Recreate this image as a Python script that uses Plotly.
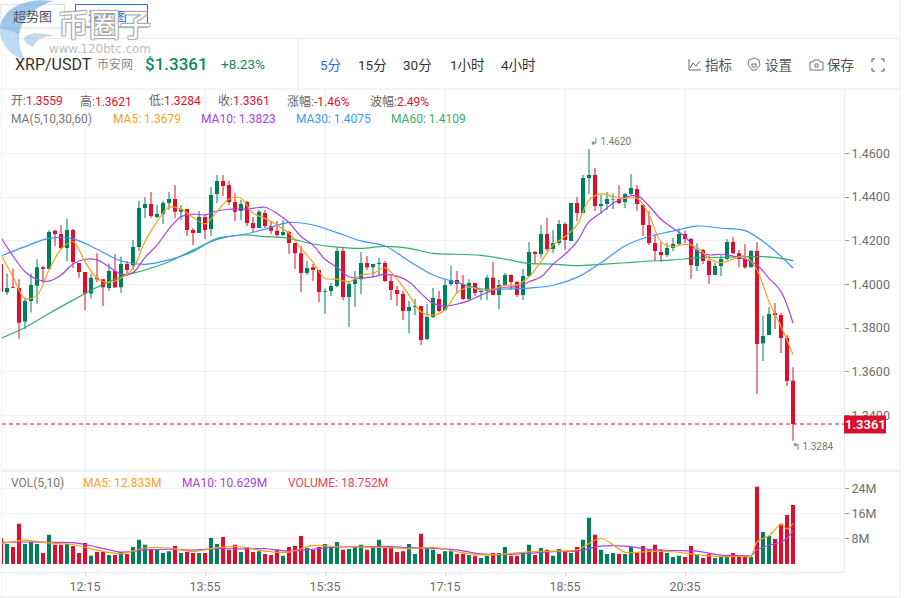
import plotly.graph_objects as go

W, H = 904, 598

# ---------- data ----------
opens = [1.4093,1.3964,1.3987,1.3983,1.3830,1.3924,1.3994,1.4079,1.4070,1.4245,
1.4231,1.4167,1.4249,1.4098,1.4057,1.3958,1.4030,1.4024,1.3983,1.4061,
1.3987,1.4093,1.4088,1.4171,1.4350,1.4368,1.4309,1.4322,1.4373,1.4391,
1.4332,1.4345,1.4249,1.4235,1.4309,1.4254,1.4414,1.4473,1.4455,1.4377,
1.4336,1.4377,1.4281,1.4258,1.4327,1.4267,1.4245,1.4226,1.4240,1.4190,
1.4143,1.4052,1.4079,1.4066,1.3966,1.3970,1.3993,1.4153,1.3942,1.4002,
1.4024,1.4098,1.4079,1.4093,1.4098,1.4016,1.3974,1.3956,1.3878,1.3896,
1.3901,1.3750,1.3851,1.3933,1.3883,1.4002,1.4020,1.4002,1.3933,1.4006,
1.3965,1.3970,1.4030,1.3951,1.3997,1.4043,1.4011,1.3951,1.4038,1.4148,
1.4139,1.4231,1.4162,1.4190,1.4277,1.4199,1.4373,1.4327,1.4487,1.4501,
1.4359,1.4368,1.4388,1.4391,1.4377,1.4414,1.4437,1.4363,1.4272,1.4190,
1.4148,1.4135,1.4167,1.4185,1.4231,1.4208,1.4084,1.4158,1.4107,1.4043,
1.4084,1.4116,1.4194,1.4143,1.4116,1.4079,1.4153,1.3731,1.3768,1.3869,
1.3860,1.3755,1.3559]
closes = [1.3966,1.3983,1.3984,1.3825,1.3924,1.3997,1.4079,1.4070,1.4240,1.4231,
1.4167,1.4249,1.4102,1.4057,1.3958,1.4030,1.4024,1.3987,1.4061,1.3987,
1.4093,1.4066,1.4171,1.4350,1.4368,1.4313,1.4322,1.4373,1.4391,1.4332,
1.4345,1.4249,1.4235,1.4309,1.4249,1.4409,1.4473,1.4450,1.4377,1.4332,
1.4368,1.4281,1.4258,1.4332,1.4267,1.4245,1.4226,1.4240,1.4190,1.4143,
1.4052,1.4075,1.4066,1.3965,1.3970,1.3993,1.4153,1.3942,1.4002,1.4024,
1.4098,1.4079,1.4093,1.4098,1.4016,1.3974,1.3956,1.3878,1.3896,1.3901,
1.3745,1.3851,1.3938,1.3878,1.3997,1.4020,1.4002,1.3933,1.4006,1.3961,
1.3970,1.4030,1.3951,1.3997,1.4043,1.4011,1.3951,1.4038,1.4148,1.4139,
1.4231,1.4162,1.4190,1.4277,1.4203,1.4373,1.4327,1.4487,1.4501,1.4359,
1.4368,1.4391,1.4391,1.4373,1.4414,1.4441,1.4368,1.4272,1.4190,1.4153,
1.4135,1.4167,1.4185,1.4231,1.4208,1.4089,1.4158,1.4107,1.4043,1.4084,
1.4116,1.4194,1.4143,1.4116,1.4079,1.4153,1.3727,1.3764,1.3865,1.3860,
1.3755,1.3558,1.3361]
highs = [1.4100,1.4050,1.4073,1.4024,1.3936,1.4050,1.4115,1.4085,1.4249,1.4249,
1.4272,1.4300,1.4254,1.4098,1.4057,1.4050,1.4143,1.4024,1.4096,1.4139,
1.4128,1.4107,1.4203,1.4382,1.4400,1.4423,1.4363,1.4382,1.4423,1.4455,
1.4363,1.4345,1.4258,1.4336,1.4318,1.4446,1.4501,1.4501,1.4473,1.4418,
1.4386,1.4382,1.4309,1.4341,1.4341,1.4290,1.4290,1.4295,1.4245,1.4190,
1.4176,1.4107,1.4093,1.4066,1.3982,1.4006,1.4171,1.4168,1.4016,1.4061,
1.4148,1.4130,1.4093,1.4121,1.4107,1.4043,1.3993,1.3970,1.3924,1.3933,
1.3901,1.3910,1.3983,1.3970,1.4024,1.4084,1.4061,1.4043,1.4024,1.4006,
1.3974,1.4043,1.4102,1.4020,1.4052,1.4047,1.4016,1.4070,1.4194,1.4153,
1.4272,1.4304,1.4249,1.4295,1.4286,1.4373,1.4400,1.4501,1.4620,1.4533,
1.4409,1.4423,1.4417,1.4455,1.4418,1.4505,1.4455,1.4368,1.4336,1.4231,
1.4194,1.4190,1.4212,1.4257,1.4245,1.4212,1.4188,1.4162,1.4130,1.4098,
1.4135,1.4208,1.4217,1.4157,1.4185,1.4157,1.4194,1.3855,1.3897,1.3915,
1.3869,1.3768,1.3621]
lows = [1.3960,1.3951,1.3984,1.3750,1.3796,1.3871,1.3912,1.4007,1.4070,1.4176,
1.4161,1.4107,1.4075,1.4030,1.3883,1.3935,1.4011,1.3901,1.3970,1.3983,
1.3961,1.4038,1.4066,1.4153,1.4304,1.4304,1.4303,1.4277,1.4341,1.4304,
1.4295,1.4222,1.4180,1.4235,1.4208,1.4222,1.4373,1.4405,1.4363,1.4290,
1.4295,1.4267,1.4240,1.4258,1.4258,1.4231,1.4217,1.4222,1.4139,1.4070,
1.3964,1.4043,1.4015,1.3919,1.3864,1.3947,1.3988,1.3929,1.3805,1.3896,
1.3956,1.4066,1.4030,1.4038,1.4011,1.3929,1.3901,1.3837,1.3777,1.3860,
1.3722,1.3745,1.3846,1.3874,1.3878,1.3993,1.3959,1.3929,1.3929,1.3947,
1.3929,1.3929,1.3951,1.3887,1.3993,1.3974,1.3942,1.3929,1.4034,1.4093,
1.4121,1.4153,1.4142,1.4179,1.4157,1.4199,1.4290,1.4327,1.4414,1.4336,
1.4322,1.4341,1.4345,1.4368,1.4350,1.4409,1.4336,1.4222,1.4180,1.4107,
1.4102,1.4125,1.4153,1.4180,1.4188,1.4025,1.4061,1.4093,1.4002,1.4043,
1.4038,1.4112,1.4139,1.4079,1.4070,1.4079,1.3498,1.3650,1.3768,1.3796,
1.3686,1.3535,1.3284]
volumes = [8.2,6.4,5.4,12.8,6.4,7.0,6.4,3.5,9.3,6.1,
6.1,6.4,5.7,3.5,6.7,2.6,3.8,3.8,2.9,2.9,
3.8,3.2,5.4,7.7,6.1,4.8,4.8,3.5,4.1,5.7,
3.5,3.8,3.5,3.5,3.5,8.3,6.4,8.6,4.5,6.1,
3.8,5.4,3.8,4.1,3.2,2.9,4.5,2.6,5.4,5.7,
8.9,5.1,4.5,5.4,6.4,5.4,7.0,4.5,4.8,5.4,
6.1,4.5,5.7,7.7,5.1,5.4,3.8,4.1,6.4,3.2,
9.6,5.4,4.5,3.2,4.1,4.1,3.2,3.3,2.9,2.6,
1.9,2.6,3.5,3.5,5.4,2.6,2.6,3.8,6.1,2.9,
5.1,4.5,2.6,4.8,3.8,3.5,5.4,7.7,14.7,9.3,
4.5,3.2,3.5,3.2,3.2,5.4,3.5,5.7,4.5,6.1,
4.5,3.5,2.2,2.6,2.2,5.7,3.2,1.9,3.2,1.9,
2.2,2.6,3.5,2.6,2.6,2.2,24.6,10.2,8.9,8.0,
12.8,15.6,18.752]

ma5 = [1.4135,1.4035,1.3936,1.3951,1.4066,1.4161,1.4196,1.4104,1.4028,1.4008,
1.4028,1.4073,1.4196,1.4287,1.4353,1.4344,1.4307,1.4277,1.4333,1.4391,
1.4394,1.4325,1.4302,1.4272,1.4234,1.4165,1.4101,1.4028,1.4024,1.4012,
1.4043,1.4050,1.4076,1.4024,1.3951,1.3875,1.3860,1.3883,1.3962,1.3987,
1.3974,1.3977,1.3996,1.3997,1.4035,1.4104,1.4180,1.4219,1.4272,1.4386,
1.4414,1.4402,1.4394,1.4394,1.4318,1.4196,1.4173,1.4183,1.4170,1.4119,
1.4099,1.4116,1.4130,1.4066,1.3921,1.3807,1.3679]
ma10 = [1.4215,1.4130,1.4058,1.4023,1.4015,1.4043,1.4093,1.4115,1.4112,1.4081,
1.4047,1.4054,1.4124,1.4180,1.4254,1.4310,1.4322,1.4318,1.4336,1.4344,
1.4344,1.4348,1.4353,1.4325,1.4283,1.4219,1.4180,1.4115,1.4078,1.4035,
1.4028,1.4035,1.4046,1.4038,1.4012,1.3959,1.3913,1.3901,1.3910,1.3926,
1.3951,1.3974,1.3987,1.3990,1.4012,1.4035,1.4092,1.4138,1.4196,1.4287,
1.4328,1.4371,1.4399,1.4406,1.4359,1.4298,1.4257,1.4219,1.4154,1.4135,
1.4138,1.4130,1.4115,1.4089,1.4028,1.3967,1.3823]
ma30 = [1.4130,1.4173,1.4211,1.4208,1.4161,1.4107,1.4092,1.4112,1.4150,1.4211,
1.4226,1.4253,1.4284,1.4272,1.4237,1.4199,1.4176,1.4107,1.4043,1.4009,
1.3980,1.3979,1.3983,1.3996,1.4032,1.4099,1.4176,1.4219,1.4244,1.4267,
1.4257,1.4246,1.4176,1.4075]
ma60 = [1.3753,1.3803,1.3867,1.3928,1.3987,1.4035,1.4066,1.4104,1.4157,1.4206,
1.4226,1.4219,1.4211,1.4185,1.4171,1.4165,1.4174,1.4165,1.4142,1.4138,
1.4133,1.4116,1.4096,1.4093,1.4086,1.4092,1.4099,1.4107,1.4112,1.4121,
1.4124,1.4127,1.4126,1.4109]
vol_ma_idx = [0,4,8,12,16,20,24,28,32,36,40,44,48,52,56,60,64,68,72,76,80,84,88,92,96,
100,104,108,112,116,120,124,125,126,128,130,131,132]
vol_ma5 = [6.4,7.6,6.7,6.2,4.4,3.3,5.1,5.1,4.0,5.2,5.5,4.1,3.8,5.9,5.5,5.4,5.3,4.9,5.3,3.9,
2.9,3.2,3.9,4.1,4.5,8.2,3.7,4.0,3.9,3.0,2.4,2.4,2.3,7.0,9.0,12.6,11.1,12.833]
vol_ma10 = [6.9,7.0,6.9,6.8,5.4,3.8,4.5,4.7,4.4,4.9,4.8,4.9,4.1,4.7,5.4,5.5,5.6,5.2,5.0,4.5,
3.2,3.0,3.4,3.9,4.1,5.7,5.7,4.7,4.3,4.1,2.8,2.7,2.6,4.5,6.0,7.0,8.2,10.629]
tick_idx = [14, 34, 54, 74, 94, 114]
tick_labels = ["12:15", "13:55", "15:35", "17:15", "18:55", "20:35"]
price_ticks = [1.34, 1.36, 1.38, 1.40, 1.42, 1.44, 1.46]
vol_ticks = [8, 16, 24]
vol_tick_labels = ["8M", "16M", "24M"]
last_price = 1.3361
high_mark, high_idx = 1.4620, 98
low_mark, low_idx = 1.3284, 132

# ---------- styles ----------
RED, GREEN = "#DA0F2E", "#00805A"
RED_W, GREEN_W = "rgba(218,15,46,0.5)", "rgba(0,128,90,0.5)"
ORANGE, PURPLE, BLUE, LGREEN = "#F9A11B", "#A742E6", "#3A96FF", "#2FAE6E"
GRID, TXT, LINE = "#EFF1F6", "#777777", "#E9EBF0"
CJK = "Roboto, 'Noto Sans CJK SC', sans-serif"
n = range(len(closes))
ups = [c >= o for o, c in zip(opens, closes)]
px = lambda x: x / W
py = lambda y: 1 - y / H

fig = go.Figure()
# wicks then bodies
fig.add_trace(go.Bar(x=list(n), y=[h - l for h, l in zip(highs, lows)], base=lows, width=1/3,
                     marker=dict(color=[GREEN_W if u else RED_W for u in ups], line_width=0),
                     xaxis="x", yaxis="y", hoverinfo="skip"))
fig.add_trace(go.Candlestick(x=list(n), open=opens, high=highs, low=lows, close=closes, whiskerwidth=0,
                             increasing=dict(fillcolor=GREEN, line=dict(color=GREEN, width=0)),
                             decreasing=dict(fillcolor=RED, line=dict(color=RED, width=0)),
                             xaxis="x", yaxis="y"))
for vals, step, col in [(ma60, 4, LGREEN), (ma30, 4, BLUE), (ma10, 2, PURPLE), (ma5, 2, ORANGE)]:
    fig.add_trace(go.Scatter(x=list(range(0, 133, step)), y=vals, mode="lines",
                             line=dict(color=col, width=1.2, shape="spline", smoothing=1),
                             xaxis="x", yaxis="y"))
fig.add_trace(go.Bar(x=list(n), y=volumes, width=0.68,
                     marker=dict(color=[GREEN if u else RED for u in ups], line_width=0),
                     xaxis="x2", yaxis="y2"))
for vals, col in [(vol_ma10, PURPLE), (vol_ma5, ORANGE)]:
    fig.add_trace(go.Scatter(x=vol_ma_idx, y=vals, mode="lines",
                             line=dict(color=col, width=1.2, shape="spline", smoothing=0.8),
                             xaxis="x2", yaxis="y2"))

x_range = [(2 - 1) / 6, (844 - 1) / 6]
axis_font = dict(family=CJK, size=12.5, color="#6E6E6E")
layout = dict(
    width=W, height=H, margin=dict(l=0, r=0, t=0, b=0), showlegend=False,
    paper_bgcolor="white", plot_bgcolor="white", boxgap=0.32, boxgroupgap=0, barmode="overlay",
    font=dict(family=CJK),
    xaxis=dict(domain=[px(2), px(844)], range=x_range, anchor="y", tickvals=tick_idx, showticklabels=False,
               showgrid=True, gridcolor=GRID, gridwidth=1, zeroline=False, rangeslider=dict(visible=False), ticks=""),
    xaxis2=dict(domain=[px(2), px(844)], range=x_range, anchor="y2", tickvals=tick_idx, ticktext=tick_labels,
                showgrid=True, gridcolor=GRID, zeroline=False, ticks="outside", ticklen=3, tickcolor="#CCCCCC",
                tickfont=axis_font, showline=True, linecolor=LINE),
    yaxis=dict(domain=[py(470), py(89)], range=[1.46 - (470 - 153.3) / 2185, 1.46 + (153.3 - 89) / 2185],
               side="right", anchor="x", tickvals=price_ticks, tickformat=".4f", gridcolor=GRID, zeroline=False,
               ticks="outside", ticklen=4, tickcolor="#999999", tickfont=axis_font, showline=True, linecolor=LINE),
    yaxis2=dict(domain=[py(572.3), py(472)], range=[-8.3 / 3.14, 92 / 3.14], side="right", anchor="x2",
                tickvals=vol_ticks, ticktext=vol_tick_labels, gridcolor=GRID, zeroline=False,
                ticks="outside", ticklen=4, tickcolor="#999999", tickfont=axis_font, showline=True, linecolor=LINE),
)
fig.update_layout(**layout)


def line(x0, y0, x1, y1, color=LINE, width=1):
    fig.add_shape(type="line", xref="paper", yref="paper", x0=px(x0), y0=py(y0), x1=px(x1), y1=py(y1),
                  line=dict(color=color, width=width))


def path(d, color="#666666", fill="rgba(0,0,0,0)", width=1):
    out = []
    toks = d.split()
    i = 0
    while i < len(toks):
        t = toks[i]
        if t.isalpha():
            out.append(t)
            i += 1
        else:
            out.append(f"{px(float(t)):.5f},{py(float(toks[i + 1])):.5f}")
            i += 2
    fig.add_shape(type="path", xref="paper", yref="paper", path=" ".join(out),
                  line=dict(color=color, width=width), fillcolor=fill)


def text(x, y, s, size=12, color=TXT, anchor="left", family=CJK, **kw):
    fig.add_annotation(xref="paper", yref="paper", x=px(x), y=py(y), text=s, showarrow=False, xanchor=anchor,
                       yanchor="middle", font=dict(size=size, color=color, family=family, **kw), borderpad=0)


# page frame / header rules
line(0, 38.5, 901, 38.5)
line(2, 89, 901, 89)
line(298, 38.5, 298, 89)
line(1.5, 38.5, 1.5, 597, color="#F0F2F6")
line(900, 0, 900, 598)
line(0, 597, 901, 597)
fig.add_shape(type="rect", xref="paper", yref="paper", x0=px(2), x1=px(901), y0=py(472), y1=py(469.5),
              fillcolor="#EEF1F6", line_width=0)

# tabs
fig.add_shape(type="rect", xref="paper", yref="paper", x0=px(1), x1=px(64.5), y0=py(28), y1=py(4.5),
              line=dict(color="#DCDCDC", width=1), fillcolor="white")
fig.add_shape(type="rect", xref="paper", yref="paper", x0=px(75.5), x1=px(147.5), y0=py(27), y1=py(4.5),
              line=dict(color="#2A6BE8", width=1), fillcolor="white")

# watermark logo
path("M 54 1 C 26 -3 2 8 0 28 C -1 42 10 56 26 61 C 20 52 17 42 20 30 C 24 16 36 6 54 1 Z",
     color="rgba(0,0,0,0)", fill="rgba(98,165,222,0.62)", width=0)
path("M 0 28 C -1 42 10 56 26 61 C 20 52 17 42 19 34 Z",
     color="rgba(0,0,0,0)", fill="rgba(255,255,255,0.35)", width=0)
path("M 24 38 C 29 32 40 32 54 36 C 44 36 36 39 33 47 C 28 45 24 42 24 38 Z",
     color="rgba(0,0,0,0)", fill="rgba(160,195,228,0.65)", width=0)
text(12, 17, "超势图", 13, "#555555")
text(87, 17, "深度图", 13, "#2A6BE8")
text(57, 26, "币圈子", 31, "white", shadow="1px 1px 1px #AAA, -1px -1px 1px #AAA, 1px -1px 1px #AAA, -1px 1px 1px #AAA")
text(48, 48.5, "www.120btc.com", 11.8, "#BDBDBD", family="'DejaVu Sans', sans-serif")

# title row
text(14, 64, "XRP/USDT", 16, "#333333")
text(96, 64, "币安网", 12, "#8A8A8A")
text(143.5, 64, "$1.3361", 17, "#0B8A60", weight=500)
text(220, 64, "+8.23%", 13.5, "#0B8A60")
for x, s, c in [(319, "5分", "#2A6BE8"), (357, "15分", "#333333"), (402, "30分", "#333333"),
                (449, "1小时", "#333333"), (500, "4小时", "#333333")]:
    text(x, 65, s, 13.5, c)
for x, s in [(703.5, "指标"), (764, "设置"), (826, "保存")]:
    text(x, 65, s, 13.5, "#555555")
# toolbar icons
path("M 689 59 L 689 70 L 701 70", "#666666")
path("M 690 68 L 693 63 L 696 66 L 700 61", "#666666")
path("M 749 60 L 754 58 L 759 60 L 760 65 L 756 70 L 752 70 L 748 65 Z", "#777777")
path("M 752 64 L 756 64 L 756 67 L 752 67 Z", "#777777")
path("M 810 62 L 813 62 L 814 60 L 819 60 L 820 62 L 823 62 L 823 70 L 810 70 Z", "#777777")
path("M 815 64 L 818 64 L 818 67 L 815 67 Z", "#777777")
for d in ["M 872 59 L 875 59 M 872 59 L 872 62", "M 881 59 L 884 59 M 884 59 L 884 62",
          "M 872 68 L 872 71 L 875 71", "M 881 71 L 884 71 L 884 68"]:
    path(d, "#555555")

# info rows
info = [(10, "开:", "1.3559"), (79, "高:", "1.3621"), (148, "低:", "1.3284"), (217, "收:", "1.3361"),
        (286, "涨幅:", "-1.46%"), (369, "波幅:", "2.49%")]
for x, a, b in info:
    text(x, 101, f'<span style="color:#666666">{a}</span><span style="color:{RED}">{b}</span>', 12)
text(10, 118.5, "MA(5,10,30,60)", 12, "#777777")
text(112, 118.5, "MA5: 1.3679", 12, ORANGE)
text(200, 118.5, "MA10: 1.3823", 12, PURPLE)
text(295, 118.5, "MA30: 1.4075", 12, BLUE)
text(390, 118.5, "MA60: 1.4109", 12, LGREEN)
text(10, 482.5, "VOL(5,10)", 12, "#777777")
text(82, 482.5, "MA5: 12.833M", 12, ORANGE)
text(181, 482.5, "MA10: 10.629M", 12, PURPLE)
text(287, 482.5, "VOLUME: 18.752M", 12, "#E8455E")

# last price line + tag
fig.add_shape(type="line", xref="x", yref="y", x0=x_range[0], x1=x_range[1], y0=last_price, y1=last_price,
              line=dict(color=RED, width=1, dash="4px,3px"))
fig.add_shape(type="rect", xref="paper", yref="paper", x0=px(844), x1=px(886), y0=py(433.5), y1=py(415.5),
              fillcolor=RED, line_width=0, layer="above")
text(865, 424.5, f"{last_price:.4f}", 13, "white", anchor="center", weight=600)

# extreme marks
fig.add_annotation(x=high_idx, y=high_mark, xref="x", yref="y", text=f"↲ {high_mark:.4f}", showarrow=False,
                   xanchor="left", yanchor="middle", xshift=-1, yshift=7,
                   font=dict(size=10, color="#777777", family=CJK))
fig.add_annotation(x=low_idx, y=low_mark, xref="x", yref="y", text=f"↰ {low_mark:.4f}", showarrow=False,
                   xanchor="left", yanchor="middle", xshift=-3, yshift=-6,
                   font=dict(size=10, color="#777777", family=CJK))

fig.write_html("out.html", config=dict(displayModeBar=False),
               post_script="document.body.style.margin='0';document.body.style.overflow='hidden';")
